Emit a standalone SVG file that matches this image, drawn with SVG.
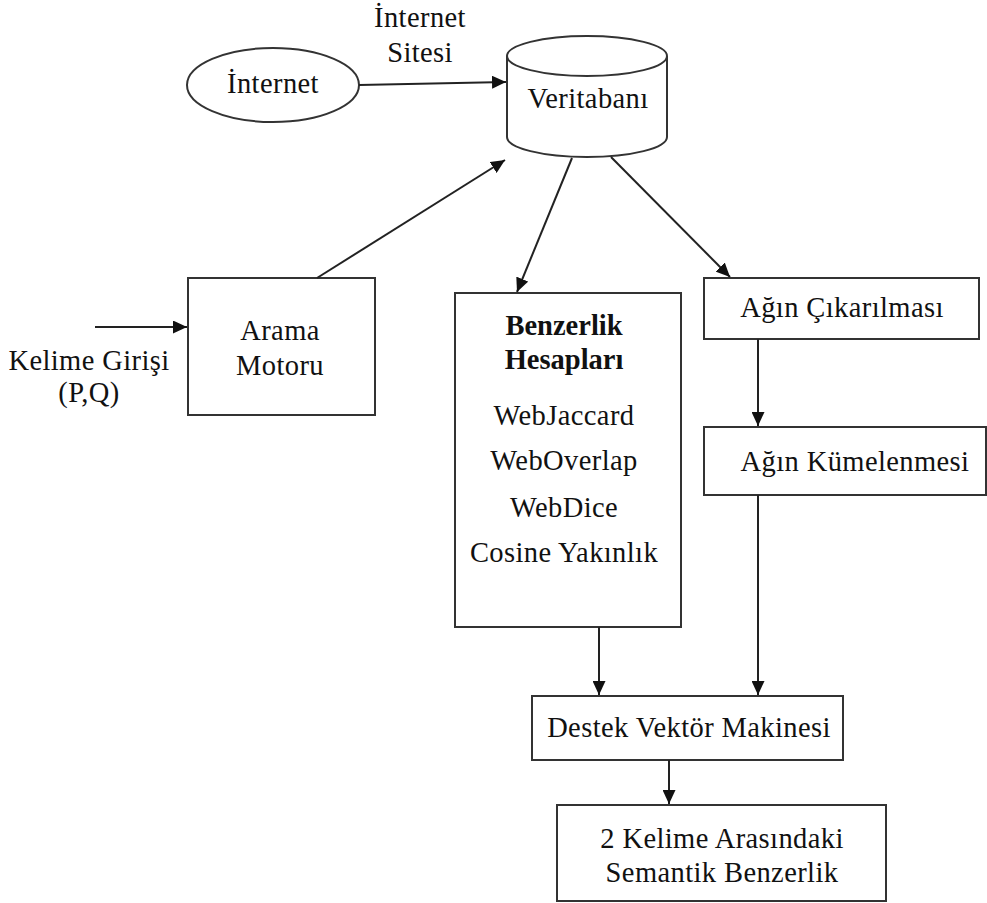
<svg xmlns="http://www.w3.org/2000/svg" width="987" height="903" viewBox="0 0 987 903">
<style>
.t{font-family:"Liberation Serif","Times New Roman",serif;font-size:28.5px;letter-spacing:0.4px;fill:#111;text-anchor:middle}
.b{font-weight:bold;letter-spacing:0}
.box{fill:#fff;stroke:#333;stroke-width:2}
.c{fill:none;stroke:#222;stroke-width:2}
</style>
<defs>
<marker id="ah" markerUnits="userSpaceOnUse" markerWidth="15" markerHeight="13" refX="14" refY="6.5" orient="auto">
<path d="M0,0 L14,6.5 L0,13 z" fill="#111"/>
</marker>
</defs>
<rect width="987" height="903" fill="#fff"/>
<g id="internet">
<ellipse class="box" cx="273" cy="85" rx="86" ry="37"/>
<text class="t" x="273" y="93">İnternet</text>
</g>
<g id="veritabani">
<path class="box" d="M507,56 L507,137 A80,20 0 0 0 667,137 L667,56"/>
<ellipse class="box" cx="587" cy="56" rx="80" ry="20"/>
<text class="t" x="588" y="108">Veritabanı</text>
</g>
<g id="arama">
<rect class="box" x="188" y="278" width="187" height="137"/>
<text class="t" x="280" y="340">Arama</text>
<text class="t" x="280" y="375">Motoru</text>
</g>
<g id="benzerlik">
<rect class="box" x="455" y="293" width="226" height="334"/>
<text class="t b" x="564" y="335">Benzerlik</text>
<text class="t b" x="564" y="369">Hesapları</text>
<text class="t" x="564" y="425">WebJaccard</text>
<text class="t" x="564" y="470">WebOverlap</text>
<text class="t" x="564" y="517">WebDice</text>
<text class="t" x="564" y="562">Cosine Yakınlık</text>
</g>
<g id="cikarilmasi">
<rect class="box" x="704" y="278" width="275" height="61"/>
<text class="t" x="842" y="317">Ağın Çıkarılması</text>
</g>
<g id="kumelenmesi">
<rect class="box" x="704" y="427" width="282" height="68"/>
<text class="t" x="855" y="471">Ağın Kümelenmesi</text>
</g>
<g id="destek">
<rect class="box" x="532" y="696" width="311" height="64"/>
<text class="t" x="689" y="737">Destek Vektör Makinesi</text>
</g>
<g id="sonuc">
<rect class="box" x="557" y="805" width="329" height="96"/>
<text class="t" x="722" y="848">2 Kelime Arasındaki</text>
<text class="t" x="722" y="882">Semantik Benzerlik</text>
</g>
<g id="labels">
<text class="t" x="420" y="27">İnternet</text>
<text class="t" x="420" y="62">Sitesi</text>
<text class="t" x="89" y="370">Kelime Girişi</text>
<text class="t" x="89" y="402">(P,Q)</text>
</g>
<g id="connectors">
<line class="c" x1="359" y1="85" x2="506" y2="82" marker-end="url(#ah)"/>
<line class="c" x1="317" y1="278" x2="505" y2="160" marker-end="url(#ah)"/>
<line class="c" x1="95" y1="327" x2="187" y2="327" marker-end="url(#ah)"/>
<line class="c" x1="572" y1="158" x2="517" y2="292" marker-end="url(#ah)"/>
<line class="c" x1="611" y1="157" x2="730" y2="277" marker-end="url(#ah)"/>
<line class="c" x1="758" y1="339" x2="758" y2="426" marker-end="url(#ah)"/>
<line class="c" x1="599" y1="627" x2="599" y2="695" marker-end="url(#ah)"/>
<line class="c" x1="758" y1="495" x2="758" y2="695" marker-end="url(#ah)"/>
<line class="c" x1="669" y1="760" x2="669" y2="804" marker-end="url(#ah)"/>
</g>
</svg>
